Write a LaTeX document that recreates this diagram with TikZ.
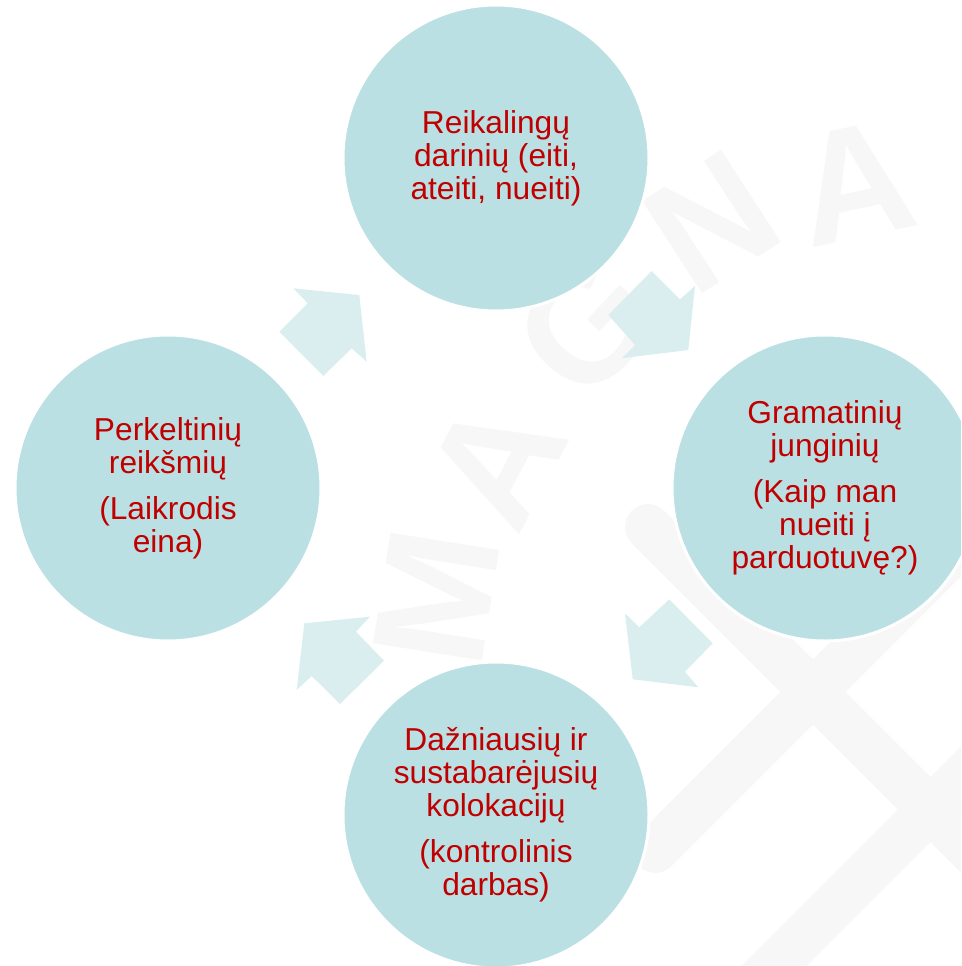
\documentclass[tikz,border=0pt]{standalone}
\usepackage{fontspec}
\setmainfont{Liberation Sans}
\definecolor{bubblefill}{HTML}{BBE0E3}
\definecolor{arrowfill}{HTML}{DAEDEF}
\definecolor{txtred}{HTML}{C00000}
\definecolor{wmgray}{HTML}{F7F7F7}
\begin{document}
\begin{tikzpicture}[x=1pt,y=1pt,
  bubble/.style={circle, fill=bubblefill, draw=white, line width=3pt,
    minimum size=306pt, inner sep=0pt, align=center, text=txtred,
    font=\fontsize{31.7}{33}\selectfont},
  blockarrow/.style={fill=arrowfill},
  wmletter/.style={text=wmgray, inner sep=0pt,
    font=\fontsize{160}{160}\selectfont\bfseries},
  wmband/.style={draw=wmgray, line width=46pt, line cap=round}]
\useasboundingbox (0,0) rectangle (961,-966);
\clip (0,0) rectangle (961,-966);

% faint watermark
\draw[wmband] (648,-527) -- (1100,-979);
\draw[wmband] (655,-850) -- (1050,-455);
\draw[wmband] (760,-980) -- (1050,-690);
\node[wmletter, rotate=81] (wm1) at (437,-597) {M};
\node[wmletter, rotate=62] (wm2) at (496,-462) {A};
\node[wmletter, rotate=47] (wm3) at (587,-325) {G};
\node[wmletter, rotate=33] (wm4) at (712,-222) {N};
\node[wmletter, rotate=12] (wm5) at (855,-183) {A};

% block arrows
\fill[blockarrow] (293.3,-288.3) -- (359.3,-295) -- (366.7,-361.7) -- (351.7,-348.3)
  -- (323.3,-376) -- (279.3,-331.7) -- (307.7,-303.3) -- cycle;
\fill[blockarrow] (651.7,-271) -- (680,-299.3) -- (695,-286) -- (688.3,-350)
  -- (621.7,-358.3) -- (635,-345) -- (608.3,-315) -- cycle;
\fill[blockarrow] (669.3,-599.3) -- (712.7,-643.3) -- (685,-671.7) -- (698.3,-687.3)
  -- (632.7,-679.3) -- (625,-613.3) -- (639.3,-627.3) -- cycle;
\fill[blockarrow] (304.3,-623.3) -- (370,-616.7) -- (356,-631.7) -- (384,-660.7)
  -- (340,-704) -- (311.7,-676) -- (296.7,-690) -- cycle;

% circles
\node[bubble] (top) at (496,-158) {Reikalingų\\darinių (eiti,\\ateiti, nueiti)};
\node[bubble] (right) at (825,-488) {Gramatinių\\junginių\\[13pt](Kaip man\\nueiti į\\parduotuvę?)};
\node[bubble] (bottom) at (496,-815) {Dažniausių ir\\sustabarėjusių\\kolokacijų\\[13pt](kontrolinis\\darbas)};
\node[bubble] (left) at (168,-488) {Perkeltinių\\reikšmių\\[13pt](Laikrodis\\eina)};
\end{tikzpicture}
\end{document}
